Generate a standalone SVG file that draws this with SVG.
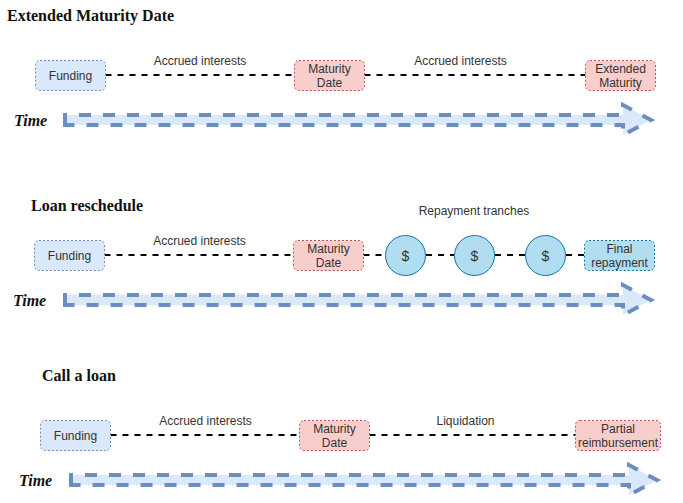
<svg xmlns="http://www.w3.org/2000/svg" width="683" height="503" viewBox="0 0 683 503">
<defs>
<style>
.t{font-family:"Liberation Sans",Arial,sans-serif;font-size:12px;fill:#333;text-anchor:middle}
.h{font-family:"Liberation Serif","Times New Roman",serif;font-size:16px;font-weight:bold;fill:#111}
.ti{font-family:"Liberation Serif","Times New Roman",serif;font-size:16px;font-weight:bold;font-style:italic;fill:#111}
.b{fill:#dae8fc;stroke:#6c8ebf;stroke-dasharray:2 2}
.r{fill:#f8cecc;stroke:#b85450;stroke-dasharray:2 2}
.c{fill:#b1ddf0;stroke:#10739e;stroke-dasharray:2 2}
.o{fill:#b1ddf0;stroke:#10739e}
.l{fill:none;stroke:#000;stroke-width:2;stroke-dasharray:6 6}
.a{fill:#dae8fc;stroke:#6c8ebf;stroke-width:4;stroke-dasharray:12 12;stroke-miterlimit:10}
</style>
<path id="arrow" class="a" d="M0 5V-5H558V-15L586 0L558 15V5Z"/>
</defs>
<text class="h" x="7" y="21">Extended Maturity Date</text>
<text class="h" x="31" y="211">Loan reschedule</text>
<text class="h" x="42" y="381">Call a loan</text>
<text class="ti" x="14" y="126">Time</text>
<text class="ti" x="13" y="306">Time</text>
<text class="ti" x="19" y="486">Time</text>
<text class="t" x="200" y="65">Accrued interests</text>
<text class="t" x="460.500" y="65">Accrued interests</text>
<text class="t" x="199.500" y="245">Accrued interests</text>
<text class="t" x="474" y="215">Repayment tranches</text>
<text class="t" x="205.500" y="425">Accrued interests</text>
<text class="t" x="465.500" y="425">Liquidation</text>
<g id="connectors">
<path class="l" d="M105.500 75H294.500M364.500 75H585.500"/>
<path class="l" d="M104.500 255H293.500M363.500 255H385.500M426 255H454M495 255H525M566 255H584.500"/>
<path class="l" d="M110.500 435H299.500M369.500 435H575.500"/>
</g>
<g id="time-arrow-1"><use href="#arrow" x="65" y="120"/></g>
<g id="time-arrow-2"><use href="#arrow" x="65" y="300"/></g>
<g id="time-arrow-3"><use href="#arrow" x="71" y="480"/></g>
<g id="funding-1"><rect class="b" x="35.500" y="60.500" width="70" height="30" rx="4.500"/><text class="t" x="70.500" y="80">Funding</text></g>
<g id="maturity-1"><rect class="r" x="294.500" y="60.500" width="70" height="30" rx="4.500"/><text class="t" x="329.500" y="73">Maturity</text><text class="t" x="329.500" y="87">Date</text></g>
<g id="extended-1"><rect class="r" x="585.500" y="60.500" width="70" height="30" rx="4.500"/><text class="t" x="620.500" y="73">Extended</text><text class="t" x="620.500" y="87">Maturity</text></g>
<g id="funding-2"><rect class="b" x="34.500" y="240.500" width="70" height="30" rx="4.500"/><text class="t" x="69.500" y="260">Funding</text></g>
<g id="maturity-2"><rect class="r" x="293.500" y="240.500" width="70" height="30" rx="4.500"/><text class="t" x="328.500" y="253">Maturity</text><text class="t" x="328.500" y="267">Date</text></g>
<g id="tranche-1"><circle class="o" cx="405.500" cy="255.500" r="20"/><text class="t" x="405.500" y="261" style="font-size:14px">$</text></g>
<g id="tranche-2"><circle class="o" cx="474.500" cy="255.500" r="20"/><text class="t" x="474.500" y="261" style="font-size:14px">$</text></g>
<g id="tranche-3"><circle class="o" cx="545.500" cy="255.500" r="20"/><text class="t" x="545.500" y="261" style="font-size:14px">$</text></g>
<g id="final-2"><rect class="c" x="584.500" y="240.500" width="70" height="30" rx="4.500"/><text class="t" x="619.500" y="253">Final</text><text class="t" x="619.500" y="267">repayment</text></g>
<g id="funding-3"><rect class="b" x="40.500" y="420.500" width="70" height="30" rx="4.500"/><text class="t" x="75.500" y="440">Funding</text></g>
<g id="maturity-3"><rect class="r" x="299.500" y="420.500" width="70" height="30" rx="4.500"/><text class="t" x="334.500" y="433">Maturity</text><text class="t" x="334.500" y="447">Date</text></g>
<g id="partial-3"><rect class="r" x="575.500" y="420.500" width="85" height="30" rx="4.500"/><text class="t" x="618" y="433">Partial</text><text class="t" x="618" y="447">reimbursement</text></g>
</svg>
